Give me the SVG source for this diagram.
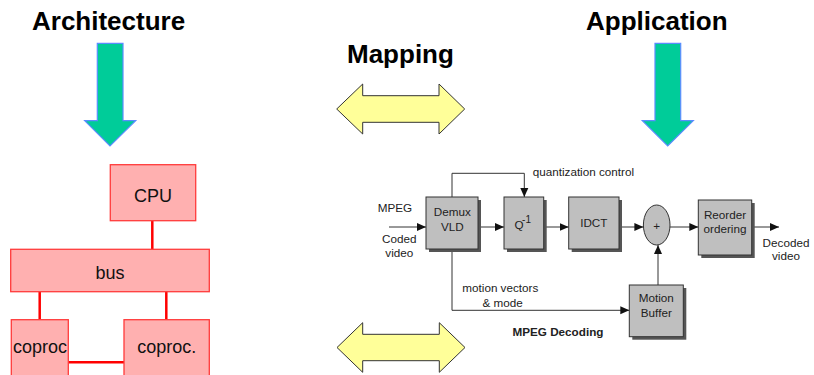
<svg xmlns="http://www.w3.org/2000/svg" width="814" height="375" viewBox="0 0 814 375">
  <defs>
    <style>
      .title { font-family: "Liberation Sans", Arial, sans-serif; font-weight: bold; font-size: 26px; fill: #000; }
      .hw { fill: #FFB0B0; stroke: #FF3B3B; stroke-width: 1.3; }
      .hwtxt { font-family: "Liberation Sans", Arial, sans-serif; font-size: 18px; fill: #111; text-anchor: middle; }
      .bus { stroke: #FF0000; stroke-width: 2.5; fill: none; }
      .down { fill: #00CC99; stroke: #5B8CFF; stroke-width: 1.2; }
      .map { fill: #FFFF99; stroke: #333; stroke-width: 1; }
      .blk { fill: #BFBFBF; stroke: #333; stroke-width: 1; }
      .shd { fill: #555; }
      .lbl { font-family: "Liberation Sans", Arial, sans-serif; font-size: 11.7px; fill: #222; }
      .mid { text-anchor: middle; }
      .wire { stroke: #333; stroke-width: 1; fill: none; }
    </style>
    <marker id="tri" markerWidth="10" markerHeight="10" refX="9" refY="5" orient="auto" markerUnits="userSpaceOnUse">
      <path d="M0,1 L9,5 L0,9 Z" fill="#111"/>
    </marker>
  </defs>

  <!-- headings -->
  <text class="title" x="32" y="30">Architecture</text>
  <text class="title" x="586" y="30">Application</text>
  <text class="title" x="347" y="63">Mapping</text>

  <!-- downward refinement arrows -->
  <path class="down" d="M97.3,43.3 H123 V120.7 H135.7 L110,146 L84.7,120.7 H97.3 Z"/>
  <path class="down" d="M655,43.3 H680.7 V120.7 H693.3 L667.7,146 L642.3,120.7 H655 Z"/>

  <!-- mapping double arrows -->
  <path class="map" d="M336.7,109 L362.7,84 V95.7 H439 V84 L464.7,109 L439,134 V122.3 H362.7 V134 Z"/>
  <path class="map" d="M337,347.5 L362.7,322.7 V334.3 H439.3 V322.7 L465,347.5 L439.3,372.3 V360.7 H362.7 V372.3 Z"/>

  <!-- architecture interconnect -->
  <g id="arch-links">
    <line class="bus" x1="152.3" y1="220.7" x2="152.3" y2="249.3"/>
    <line class="bus" x1="39.7" y1="291.7" x2="39.7" y2="319.7"/>
    <line class="bus" x1="166.3" y1="291.7" x2="166.3" y2="319.7"/>
    <line class="bus" x1="68.3" y1="362.3" x2="124" y2="362.3"/>
  </g>

  <g id="cpu">
    <rect class="hw" x="110.3" y="164.7" width="85.4" height="56"/>
    <text class="hwtxt" x="153" y="202">CPU</text>
  </g>
  <g id="bus">
    <rect class="hw" x="10.7" y="249.3" width="198.6" height="42.4"/>
    <text class="hwtxt" x="110" y="278.5">bus</text>
  </g>
  <g id="coproc1">
    <rect class="hw" x="11.3" y="319.7" width="57" height="62"/>
    <text class="hwtxt" x="40" y="353">coproc</text>
  </g>
  <g id="coproc2">
    <rect class="hw" x="124" y="319.7" width="85.3" height="62"/>
    <text class="hwtxt" x="166.7" y="353">coproc.</text>
  </g>

  <!-- MPEG decoder data flow -->
  <g id="mpeg-links">
    <line class="wire" x1="389" y1="227" x2="426" y2="227" marker-end="url(#tri)"/>
    <line class="wire" x1="478" y1="227" x2="504" y2="227" marker-end="url(#tri)"/>
    <line class="wire" x1="543.7" y1="227" x2="568.7" y2="227" marker-end="url(#tri)"/>
    <line class="wire" x1="619" y1="227" x2="643.4" y2="227" marker-end="url(#tri)"/>
    <line class="wire" x1="670" y1="227" x2="698.3" y2="227" marker-end="url(#tri)"/>
    <line class="wire" x1="751.7" y1="227" x2="779" y2="227" marker-end="url(#tri)"/>
    <line class="wire" x1="658" y1="285" x2="658" y2="245" marker-end="url(#tri)"/>
    <path class="wire" d="M452,197 V173.3 H524.3 V197" marker-end="url(#tri)"/>
    <path class="wire" d="M452,250 V310.3 H629.3" marker-end="url(#tri)"/>
  </g>

  <g id="demux">
    <rect class="shd" x="429" y="200" width="52" height="52"/>
    <rect class="blk" x="426" y="197" width="52" height="52"/>
    <text class="lbl mid" x="452.3" y="215.7">Demux</text>
    <text class="lbl mid" x="452.3" y="231">VLD</text>
  </g>
  <g id="iquant">
    <rect class="shd" x="507" y="200" width="39.7" height="52"/>
    <rect class="blk" x="504" y="197" width="39.7" height="52"/>
    <text class="lbl" x="514.5" y="229">Q<tspan dx="-1.5" dy="-6" font-size="10">-1</tspan></text>
  </g>
  <g id="idct">
    <rect class="shd" x="571.7" y="200" width="50.3" height="52"/>
    <rect class="blk" x="568.7" y="197" width="50.3" height="52"/>
    <text class="lbl mid" x="593.8" y="227">IDCT</text>
  </g>
  <g id="adder">
    <ellipse class="blk" cx="656.7" cy="225" rx="13.3" ry="20"/>
    <text class="lbl mid" x="656.7" y="229.5">+</text>
  </g>
  <g id="reorder">
    <rect class="shd" x="701.3" y="203" width="53.4" height="55"/>
    <rect class="blk" x="698.3" y="200" width="53.4" height="55"/>
    <text class="lbl mid" x="725" y="219">Reorder</text>
    <text class="lbl mid" x="725" y="233.3">ordering</text>
  </g>
  <g id="motion-buffer">
    <rect class="shd" x="632.3" y="288" width="54" height="51.7"/>
    <rect class="blk" x="629.3" y="285" width="54" height="51.7"/>
    <text class="lbl mid" x="656.3" y="301.7">Motion</text>
    <text class="lbl mid" x="656.3" y="316.7">Buffer</text>
  </g>

  <!-- flow labels -->
  <text class="lbl" x="532.7" y="176">quantization control</text>
  <text class="lbl" x="377.7" y="211.7">MPEG</text>
  <text class="lbl mid" x="399.3" y="243.3">Coded</text>
  <text class="lbl mid" x="399.3" y="257.3">video</text>
  <text class="lbl" x="462.3" y="291.7">motion vectors</text>
  <text class="lbl mid" x="502.7" y="306.7">&amp; mode</text>
  <text class="lbl mid" x="786" y="246.7">Decoded</text>
  <text class="lbl mid" x="786" y="260">video</text>
  <text class="lbl" x="512.5" y="336" font-weight="bold">MPEG Decoding</text>
</svg>
